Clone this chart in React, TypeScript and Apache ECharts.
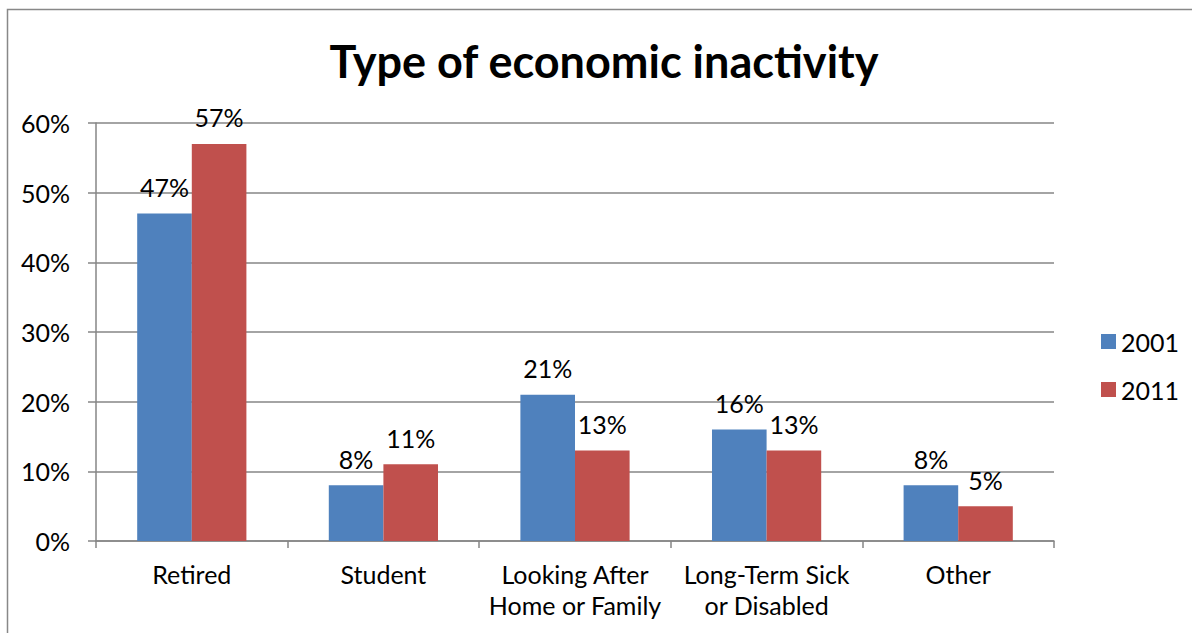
import React, { useEffect, useRef } from "react";
import * as echarts from "echarts";

const categories = ["Retired", "Student", "Looking After\nHome or Family", "Long-Term Sick\nor Disabled", "Other"];
const values2001 = [47, 8, 21, 16, 8];
const values2011 = [57, 11, 13, 13, 5];
const seriesNames = ["2001", "2011"];
const titleText = "Type of economic inactivity";

const FONT = "Lato, 'Open Sans', sans-serif";

export default function App() {
  const ref = useRef<HTMLDivElement>(null);
  useEffect(() => {
    document.body.style.margin = "0";
    const chart = echarts.init(ref.current!, null, { renderer: "svg" });
    const label = {
      show: true,
      position: "top" as const,
      distance: 14,
      formatter: "{c}%",
      color: "#000",
      fontFamily: FONT,
      fontSize: 25,
    };
    chart.setOption({
      animation: false,
      backgroundColor: "#fff",
      textStyle: { fontFamily: FONT },
      graphic: [
        {
          type: "rect",
          shape: { x: 7.5, y: 9.5, width: 1300, height: 700 },
          style: { fill: "none", stroke: "#888", lineWidth: 1.5 },
          silent: true,
        },
        {
          type: "text",
          x: 604,
          y: 61,
          style: {
            text: titleText,
            fill: "#000",
            font: `bold 45px ${FONT}`,
            textAlign: "center",
            textVerticalAlign: "middle",
          },
        },
      ],
      legend: {
        orient: "vertical",
        left: 1096,
        top: 324,
        itemWidth: 15,
        itemHeight: 15,
        itemGap: 23,
        icon: "rect",
        textStyle: { fontSize: 25, color: "#000", fontFamily: FONT },
        data: seriesNames,
      },
      grid: { left: 96, right: 138, top: 123, bottom: 92, containLabel: false },
      xAxis: {
        type: "category",
        data: categories,
        axisLine: { lineStyle: { color: "#868686", width: 1.5 } },
        axisTick: { show: true, length: 7, lineStyle: { color: "#868686", width: 1.5 } },
        axisLabel: {
          color: "#000",
          fontSize: 25,
          fontFamily: FONT,
          lineHeight: 31,
          margin: 17,
          interval: 0,
        },
      },
      yAxis: {
        type: "value",
        min: 0,
        max: 60,
        interval: 10,
        axisLine: { show: true, lineStyle: { color: "#868686", width: 1.5 } },
        axisTick: { show: true, length: 8, lineStyle: { color: "#868686", width: 1.5 } },
        axisLabel: {
          color: "#000",
          fontSize: 25,
          fontFamily: FONT,
          formatter: "{value}%",
          margin: 26,
        },
        splitLine: { lineStyle: { color: "#868686", width: 1.5 } },
      },
      series: [
        {
          name: seriesNames[0],
          type: "bar",
          data: values2001,
          itemStyle: { color: "#4F81BD" },
          barGap: "0%",
          barCategoryGap: "43%",
          label,
        },
        {
          name: seriesNames[1],
          type: "bar",
          data: values2011,
          itemStyle: { color: "#C0504D" },
          barGap: "0%",
          barCategoryGap: "43%",
          label,
        },
      ],
    });
    return () => chart.dispose();
  }, []);
  return <div ref={ref} style={{ width: 1192, height: 633 }} />;
}
